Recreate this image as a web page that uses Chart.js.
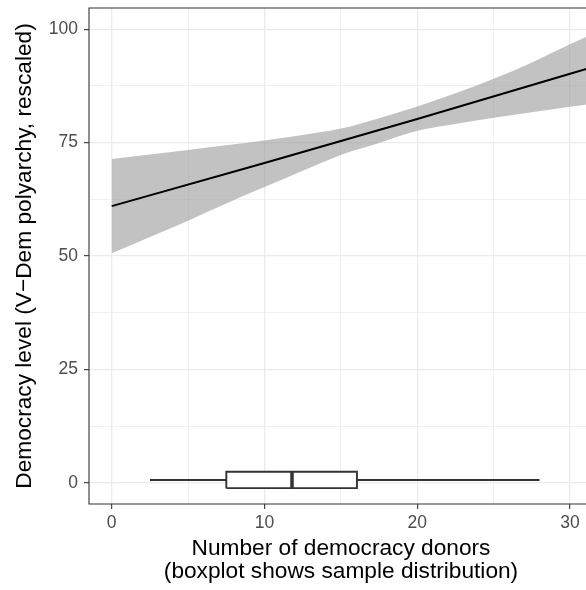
<!DOCTYPE html>
<html>
<head>
<meta charset="utf-8">
<script src="https://cdn.jsdelivr.net/npm/chart.js@4"></script>
<style>
  html, body { margin: 0; padding: 0; background: #fff; overflow: hidden; }
  #wrap { width: 596px; height: 590px; }
</style>
</head>
<body>
<div id="wrap"><canvas id="chart" width="596" height="590"></canvas></div>
<script>
// fitted line
const fitX = [0, 10, 20, 30, 32];
const fitY = [61.0, 70.5, 80.2, 90.2, 92.2];

// confidence band
const bandX = [0, 2.5, 5, 7.5, 10, 12.5, 15, 17.5, 20, 22.5, 25, 27.5, 30, 32];
const bandUpper = [71.4, 72.4, 73.4, 74.4, 75.5, 76.7, 78.1, 80.4, 83.0, 85.9, 89.1, 92.7, 96.7, 99.7];
const bandLower = [50.6, 54.2, 57.8, 61.6, 65.2, 68.8, 72.3, 74.9, 77.6, 79.1, 80.5, 81.7, 82.9, 83.8];

// boxplot of donors: whisker low, Q1, median, Q3, whisker high
const boxStats = [2.5, 7.5, 11.8, 16.05, 28];
const boxY = 0.6;

// axis ticks
const xTicks = [0, 5, 10, 15, 20, 25, 30];
const yTicks = [0, 12.5, 25, 37.5, 50, 62.5, 75, 87.5, 100];

const boxHalf = 1.8;
const gridColor = '#ebebeb';
const darkLine = '#333333';
const tickFont = { family: 'Liberation Sans, Arial, sans-serif', size: 17.5 };
const titleFont = { family: 'Liberation Sans, Arial, sans-serif', size: 22.7, lineHeight: 1.0 };

const pts = (xs, ys) => xs.map((x, i) => ({ x: x, y: ys[i] }));
const [wLo, q1, med, q3, wHi] = boxStats;

const isMajorX = v => v % 10 === 0;
const isMajorY = v => v % 25 === 0;

// panel frame: top, left and bottom; the panel is cut off at the right edge
const panelBorder = {
    id: 'panelBorder',
    afterDatasetsDraw(chart) {
        const { ctx, chartArea: a } = chart;
        ctx.save();
        ctx.strokeStyle = darkLine;
        ctx.lineWidth = 1.1;
        ctx.beginPath();
        ctx.moveTo(a.right, a.top);
        ctx.lineTo(a.left, a.top);
        ctx.lineTo(a.left, a.bottom);
        ctx.lineTo(a.right, a.bottom);
        ctx.stroke();
        ctx.restore();
    }
};

const ctx = document.getElementById('chart').getContext('2d');
new Chart(ctx, {
    type: 'line',
    data: {
        datasets: [{
            label: 'fit',
            data: pts(fitX, fitY),
            borderColor: '#000000',
            borderWidth: 2,
            pointRadius: 0,
            fill: false,
            order: 0
        }, {
            label: 'median',
            data: [{ x: med, y: boxY - boxHalf }, { x: med, y: boxY + boxHalf }],
            borderColor: darkLine,
            borderWidth: 3.5,
            pointRadius: 0,
            fill: false,
            order: 1
        }, {
            label: 'box',
            data: [
                { x: q1, y: boxY - boxHalf }, { x: q3, y: boxY - boxHalf },
                { x: q3, y: boxY + boxHalf }, { x: q1, y: boxY + boxHalf },
                { x: q1, y: boxY - boxHalf }
            ],
            borderColor: darkLine,
            backgroundColor: '#ffffff',
            borderWidth: 1.9,
            borderJoinStyle: 'miter',
            pointRadius: 0,
            fill: 'shape',
            order: 2
        }, {
            label: 'whisker low',
            data: [{ x: wLo, y: boxY }, { x: q1, y: boxY }],
            borderColor: darkLine,
            borderWidth: 1.9,
            pointRadius: 0,
            fill: false,
            order: 3
        }, {
            label: 'whisker high',
            data: [{ x: q3, y: boxY }, { x: wHi, y: boxY }],
            borderColor: darkLine,
            borderWidth: 1.9,
            pointRadius: 0,
            fill: false,
            order: 3
        }, {
            label: 'upper',
            data: pts(bandX, bandUpper),
            borderWidth: 0,
            borderColor: 'rgba(0,0,0,0)',
            backgroundColor: 'rgba(153,153,153,0.6)',
            cubicInterpolationMode: 'monotone',
            pointRadius: 0,
            fill: '+1',
            order: 4
        }, {
            label: 'lower',
            data: pts(bandX, bandLower),
            borderWidth: 0,
            borderColor: 'rgba(0,0,0,0)',
            cubicInterpolationMode: 'monotone',
            pointRadius: 0,
            fill: false,
            order: 5
        }]
    },
    options: {
        responsive: false,
        animation: false,
        layout: { padding: { top: 8, right: 3, left: 0, bottom: 0 } },
        plugins: {
            legend: { display: false },
            tooltip: { enabled: false }
        },
        scales: {
            x: {
                type: 'linear',
                min: -1.486,
                max: 31.5,
                afterBuildTicks: scale => { scale.ticks = xTicks.map(v => ({ value: v })); },
                afterFit: scale => {
                    scale.height = 86;
                    scale.paddingLeft = 0;
                    scale.paddingRight = 0;
                },
                border: { display: false },
                grid: {
                    color: gridColor,
                    lineWidth: c => (isMajorX(c.tick.value) ? 1.3 : 0.7),
                    tickColor: c => (isMajorX(c.tick.value) ? darkLine : 'rgba(0,0,0,0)'),
                    tickLength: 5,
                    tickWidth: 1.1
                },
                ticks: {
                    autoSkip: false,
                    maxRotation: 0,
                    padding: 4,
                    color: '#4d4d4d',
                    font: tickFont,
                    callback: v => (isMajorX(v) ? String(v) : '')
                },
                title: {
                    display: true,
                    text: ['Number of democracy donors', '(boxplot shows sample distribution)'],
                    color: '#000000',
                    font: titleFont,
                    padding: { top: 0, bottom: 7 }
                }
            },
            y: {
                type: 'linear',
                min: -4.7,
                max: 104.7,
                afterBuildTicks: scale => { scale.ticks = yTicks.map(v => ({ value: v })); },
                afterFit: scale => {
                    scale.width = 89;
                    scale.paddingTop = 0;
                    scale.paddingBottom = 0;
                },
                border: { display: false },
                grid: {
                    color: gridColor,
                    lineWidth: c => (isMajorY(c.tick.value) ? 1.3 : 0.7),
                    tickColor: c => (isMajorY(c.tick.value) ? darkLine : 'rgba(0,0,0,0)'),
                    tickLength: 5,
                    tickWidth: 1.1
                },
                ticks: {
                    autoSkip: false,
                    padding: 6,
                    color: '#4d4d4d',
                    font: tickFont,
                    callback: v => (isMajorY(v) ? String(v) : '')
                },
                title: {
                    display: true,
                    text: 'Democracy level (V\u2212Dem polyarchy, rescaled)',
                    color: '#000000',
                    font: titleFont,
                    padding: { top: 13, bottom: 0 }
                }
            }
        }
    },
    plugins: [panelBorder]
});
</script>
</body>
</html>
